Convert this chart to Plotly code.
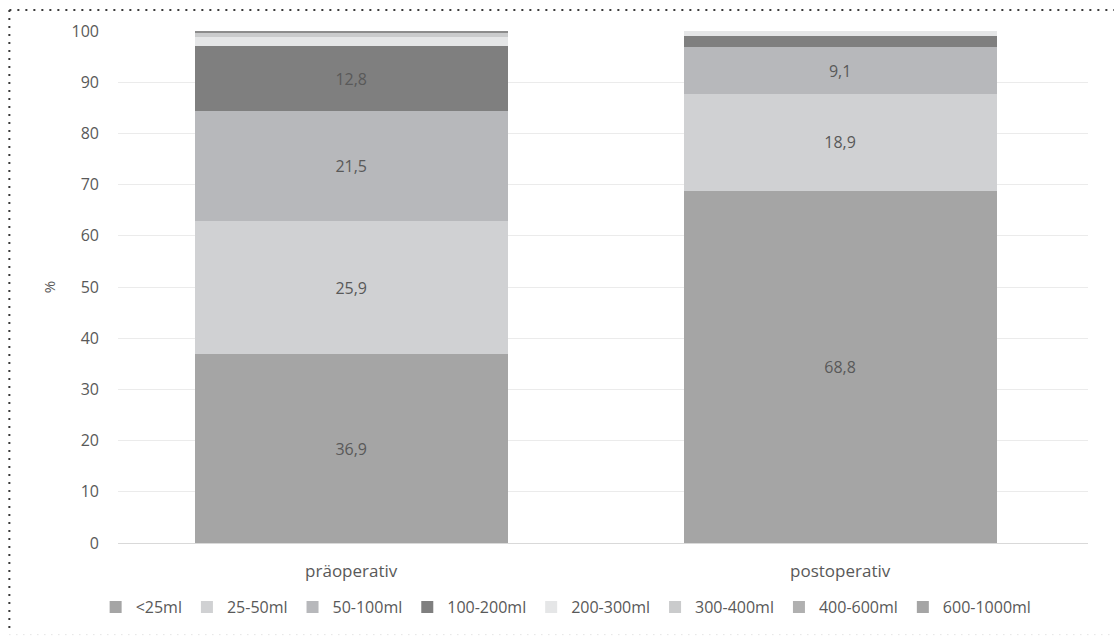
import plotly.graph_objects as go

# Categories and stacked shares (%) per volume class
categories = ["präoperativ", "postoperativ"]
series_names = ["<25ml", "25-50ml", "50-100ml", "100-200ml",
                "200-300ml", "300-400ml", "400-600ml", "600-1000ml"]
values = {
    "<25ml":      [36.9, 68.8],
    "25-50ml":    [25.9, 18.9],
    "50-100ml":   [21.5, 9.1],
    "100-200ml":  [12.8, 2.2],
    "200-300ml":  [1.7, 1.0],
    "300-400ml":  [1.0, 0.0],
    "400-600ml":  [0.2, 0.0],
    "600-1000ml": [0.0, 0.0],
}
# Only the larger segments carry a value label
labelled = {"<25ml", "25-50ml", "50-100ml", "100-200ml"}
y_ticks = list(range(0, 101, 10))

colors = {
    "<25ml": "#a5a5a5",
    "25-50ml": "#d0d1d3",
    "50-100ml": "#b7b8bb",
    "100-200ml": "#7f7f7f",
    "200-300ml": "#e5e6e7",
    "300-400ml": "#cacbcc",
    "400-600ml": "#8c8c8c",
    "600-1000ml": "#a5a5a5",
}
legend_colors = dict(colors)
legend_colors["400-600ml"] = "#b0b0b0"

FONT = "Open Sans"
TXT = "#595959"

fig = go.Figure()
for name in series_names:
    vals = values[name]
    texts = [f"{v:.1f}".replace(".", ",") if (name in labelled and v >= 5) else ""
             for v in vals]
    fig.add_trace(go.Bar(
        name=name,
        x=categories,
        y=vals,
        marker=dict(color=colors[name], line=dict(width=0)),
        text=texts,
        texttemplate="%{text}",
        textposition="inside",
        insidetextanchor="middle",
        textangle=0,
        constraintext="none",
        textfont=dict(family=FONT, size=16, color=TXT),
        hoverinfo="name+y",
        showlegend=False,
    ))
    # legend swatch
    fig.add_trace(go.Bar(
        name=name, x=[None], y=[None],
        marker=dict(color=legend_colors[name], line=dict(width=0)),
        showlegend=True,
    ))

# Outer dotted frame
frame = [
    dict(x0=-0.112, x1=1.03, y0=1.041, y1=1.041, color="#3a3a3a", width=2, dash="2px,6px"),
    dict(x0=-0.112, x1=-0.112, y0=1.041, y1=-0.172, color="#3a3a3a", width=2, dash="2px,6px"),
    dict(x0=-0.112, x1=1.03, y0=-0.179, y1=-0.179, color="#d6d6d6", width=1, dash="1px,6px"),
]
shapes = [dict(type="line", xref="paper", yref="paper",
               x0=f["x0"], x1=f["x1"], y0=f["y0"], y1=f["y1"],
               line=dict(color=f["color"], width=f["width"], dash=f["dash"]))
          for f in frame]

fig.update_layout(
    width=1114, height=639,
    margin=dict(l=118, r=26, t=31, b=96),
    paper_bgcolor="white",
    plot_bgcolor="white",
    barmode="stack",
    bargap=0.36,
    separators=",.",
    font=dict(family=FONT, size=16, color=TXT),
    shapes=shapes,
    showlegend=True,
    legend=dict(
        orientation="h", traceorder="normal",
        x=0.462, xanchor="center", y=-0.125, yanchor="middle",
        font=dict(family=FONT, size=16, color=TXT),
        itemwidth=30, itemclick=False, itemdoubleclick=False,
    ),
    xaxis=dict(
        range=[-0.477, 1.507],
        showgrid=False, showline=True, linecolor="#d9d9d9", linewidth=1,
        ticks="", ticklabelstandoff=13,
        tickfont=dict(family=FONT, size=17, color=TXT),
    ),
    yaxis=dict(
        range=[0, 100], tickvals=y_ticks,
        showgrid=True, gridcolor="#ebebeb", gridwidth=1,
        zeroline=False, showline=False, ticks="",
        ticklabelstandoff=18,
        tickfont=dict(family=FONT, size=16, color=TXT),
        title=dict(text="%", font=dict(family=FONT, size=15, color=TXT), standoff=12),
    ),
)

fig.write_html("out.html")
